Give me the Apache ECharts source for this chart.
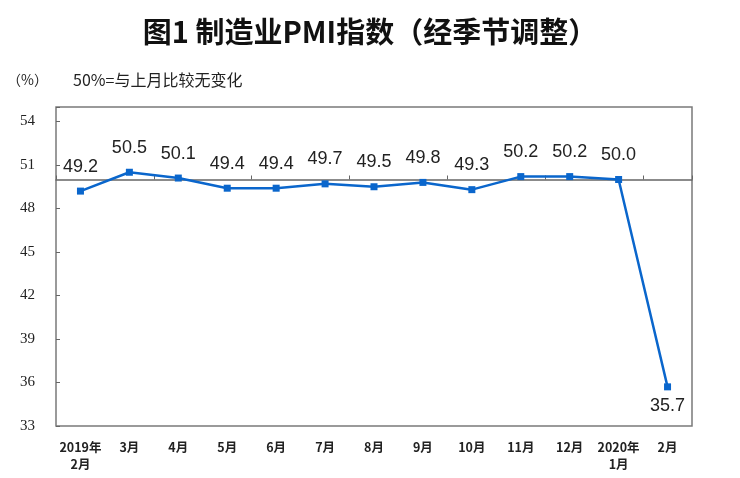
<!DOCTYPE html>
<html>
<head>
<meta charset="utf-8">
<script src="https://cdn.jsdelivr.net/npm/echarts@6/dist/echarts.min.js"></script>
<style>html,body{margin:0;padding:0;background:#fff;}#c{width:740px;height:478px;}</style>
</head>
<body>
<div id="c"></div>
<script>
var categories = ['2019年\n2月','3月','4月','5月','6月','7月','8月','9月','10月','11月','12月','2020年\n1月','2月'];
var pmiValues = [49.2, 50.5, 50.1, 49.4, 49.4, 49.7, 49.5, 49.8, 49.3, 50.2, 50.2, 50.0, 35.7];
var yTicks = [33, 36, 39, 42, 45, 48, 51, 54];
var refLevel = 50;
var titleText = '图1 制造业PMI指数（经季节调整）';
var unitText = '（%）';
var noteText = '50%=与上月比较无变化';

var yMin = 33, yMax = 55;
var gridTop = 107, gridBottom = 52, gridLeft = 56, gridRight = 48;
var gridH = 478 - gridTop - gridBottom;
var refOffset = -(refLevel - yMin) / (yMax - yMin) * gridH;

var seriesData = pmiValues.map(function (v) {
  if (v < refLevel - 5) {
    return { value: v, label: { position: 'bottom', distance: 7 } };
  }
  return v;
});

var chart = echarts.init(document.getElementById('c'));
chart.setOption({
  animation: false,
  backgroundColor: '#fff',
  title: [
    { text: titleText, left: 'center', top: 12,
      textStyle: { fontFamily: 'Noto Sans CJK SC', fontSize: 29, fontWeight: 'bold', color: '#111' } },
    { text: unitText, left: 2, top: 68,
      textStyle: { fontFamily: 'Noto Sans CJK SC', fontSize: 14, fontWeight: 'normal', color: '#222' } },
    { text: noteText, left: 68, top: 67,
      textStyle: { fontFamily: 'Noto Sans CJK SC', fontSize: 16, fontWeight: 'normal', color: '#222' } }
  ],
  grid: { left: gridLeft, right: gridRight, top: gridTop, bottom: gridBottom,
    show: true, borderColor: '#7a7a7a', borderWidth: 1.5, backgroundColor: '#fff' },
  xAxis: [
    { type: 'category', data: categories, boundaryGap: true, position: 'bottom',
      axisLine: { show: false }, axisTick: { show: false },
      axisLabel: { interval: 0, margin: 13, fontFamily: 'Noto Sans CJK SC', fontSize: 12.5,
        fontWeight: 'bold', color: '#222', lineHeight: 17 } },
    { type: 'category', data: categories, boundaryGap: true, position: 'bottom', offset: refOffset,
      axisLine: { show: true, lineStyle: { color: '#666', width: 1.5 } },
      axisTick: { show: true, inside: true, length: 4, lineStyle: { color: '#666', width: 1 } },
      axisLabel: { show: false }, splitLine: { show: false } }
  ],
  yAxis: {
    type: 'value', min: yMin, max: yMax, interval: 3,
    axisLine: { show: false },
    axisTick: { show: true, inside: true, length: 4, lineStyle: { color: '#666' } },
    splitLine: { show: false },
    axisLabel: { margin: 21, fontFamily: 'Liberation Serif', fontSize: 15, color: '#222',
      formatter: function (v) { return yTicks.indexOf(v) >= 0 ? String(v) : ''; } }
  },
  series: [{
    type: 'line', xAxisIndex: 0, data: seriesData,
    symbol: 'rect', symbolSize: 7,
    lineStyle: { color: '#0a66cc', width: 2.5 },
    itemStyle: { color: '#0a66cc' },
    label: { show: true, position: 'top', distance: 12,
      fontFamily: 'Liberation Sans', fontSize: 18, color: '#222',
      formatter: function (p) { return Number(p.value).toFixed(1); } },
    z: 5
  }]
});
</script>
</body>
</html>
